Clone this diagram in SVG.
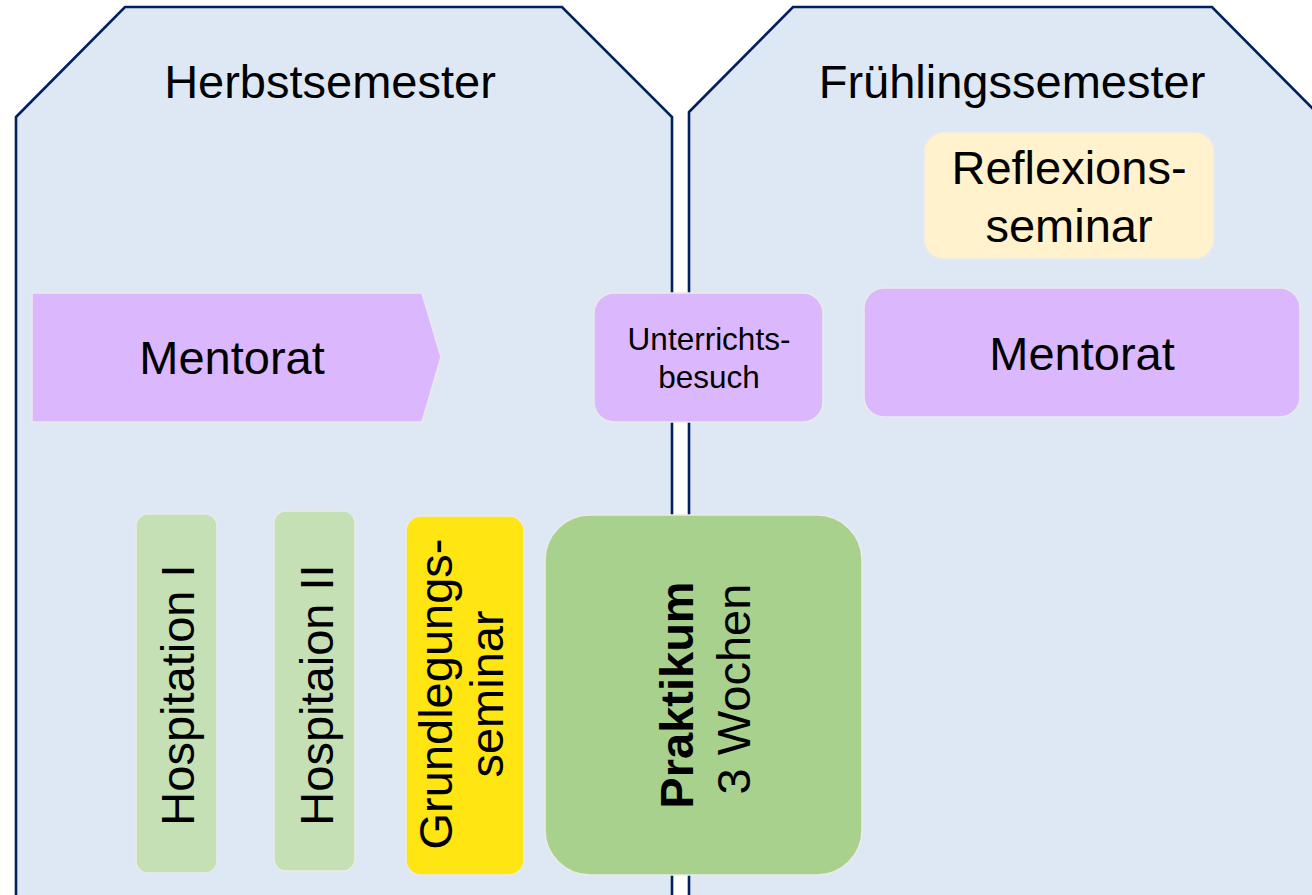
<svg xmlns="http://www.w3.org/2000/svg" width="1312" height="895" viewBox="0 0 1312 895">
<style>
.sem{fill:#DEE8F4;stroke:#002060;stroke-width:2.6;stroke-linejoin:miter}
.box{stroke:#EAEAEA;stroke-width:1.5}
.t{font-family:"Liberation Sans",Arial,sans-serif;font-size:47px;fill:#000;text-anchor:middle}
.s{font-size:31.5px}
.b{font-weight:bold}
</style>
<rect x="0" y="0" width="1312" height="895" fill="#FFFFFF"/>
<g id="herbst">
<polygon class="sem" points="16,117 125,7 562,7 672,117 672,900 16,900"/>
<text class="t" x="330" y="98">Herbstsemester</text>
</g>
<g id="fruehling">
<polygon class="sem" points="689,112 793,7 1212,7 1318,114 1318,900 689,900"/>
<text class="t" x="1012" y="98">Frühlingssemester</text>
</g>
<g id="mentorat-herbst">
<polygon class="box" fill="#DBB8FE" points="32,293 422,293 441,357 422,422 32,422"/>
<text class="t" x="232" y="374">Mentorat</text>
</g>
<g id="unterrichtsbesuch">
<rect class="box" fill="#DBB8FE" x="594" y="293" width="229" height="129" rx="20"/>
<text class="t s" x="709" y="350">Unterrichts-</text>
<text class="t s" x="709" y="388">besuch</text>
</g>
<g id="reflexionsseminar">
<rect class="box" fill="#FFF2CC" x="924" y="132" width="290" height="127" rx="20"/>
<text class="t" x="1069" y="184">Reflexions-</text>
<text class="t" x="1069" y="242">seminar</text>
</g>
<g id="mentorat-fruehling">
<rect class="box" fill="#DBB8FE" x="864" y="288" width="436" height="129" rx="20"/>
<text class="t" x="1082" y="370">Mentorat</text>
</g>
<g id="hospitation1">
<rect class="box" fill="#C5E0B4" x="136" y="514" width="81" height="359" rx="12"/>
<text class="t" transform="translate(194,695) rotate(-90)">Hospitation I</text>
</g>
<g id="hospitation2">
<rect class="box" fill="#C5E0B4" x="274" y="511" width="81" height="360" rx="12"/>
<text class="t" transform="translate(333,695) rotate(-90)">Hospitaion II</text>
</g>
<g id="grundlegungsseminar">
<rect class="box" fill="#FFE612" x="406" y="516" width="118" height="359" rx="15"/>
<text class="t" transform="translate(452,694) rotate(-90)">Grundlegungs-</text>
<text class="t" transform="translate(503,694) rotate(-90)">seminar</text>
</g>
<g id="praktikum">
<rect class="box" fill="#A9D18E" x="545" y="515" width="317" height="360" rx="45"/>
<text class="t b" transform="translate(693,695) rotate(-90)">Praktikum</text>
<text class="t" transform="translate(750,689) rotate(-90)">3 Wochen</text>
</g>
<g id="connectors"></g>
</svg>
